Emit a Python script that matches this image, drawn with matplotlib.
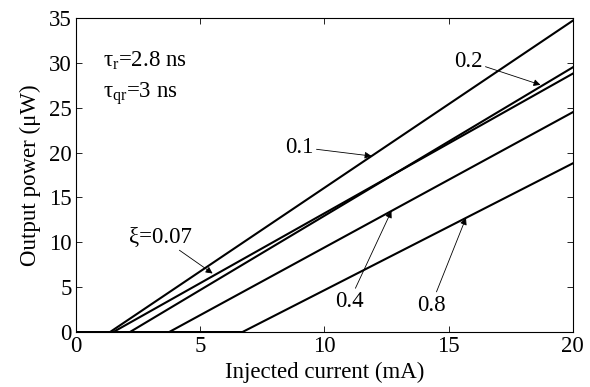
import matplotlib
matplotlib.use("Agg")
import matplotlib.pyplot as plt

plt.rcParams['font.family'] = ['Liberation Serif', 'DejaVu Serif']
plt.rcParams['mathtext.fontset'] = 'custom'
plt.rcParams['mathtext.rm'] = 'Liberation Serif'
plt.rcParams['mathtext.it'] = 'Liberation Serif'

# Data: (current mA, output power uW) for each xi
xi_labels = ["0.07", "0.1", "0.2", "0.4", "0.8"]
current_pts = [
    [0, 1.5, 20],
    [0, 1.37, 20],
    [0, 2.17, 20],
    [0, 3.75, 20],
    [0, 6.7, 20],
]
power_pts = [
    [0, 0, 28.8],
    [0, 0, 34.7],
    [0, 0, 29.5],
    [0, 0, 24.5],
    [0, 0, 18.8],
]

FS = 16.5
fig = plt.figure(figsize=(5.9, 3.87), dpi=100)
ax = fig.add_axes([0.1288, 0.142, 0.842, 0.8115])

for xs, ys in zip(current_pts, power_pts):
    ax.plot(xs, ys, color='black', linewidth=1.5)

ax.set_xlim(0, 20)
ax.set_ylim(0, 35)
ax.set_xticks([0, 5, 10, 15, 20])
ax.set_yticks([0, 5, 10, 15, 20, 25, 30, 35])
ax.tick_params(direction='in', top=True, right=True, labelsize=FS, length=4, width=0.6, pad=3)
for s in ax.spines.values():
    s.set_linewidth(0.8)
ax.set_xlabel('Injected current (mA)', fontsize=FS, labelpad=3)
ax.set_ylabel('Output power (μW)', fontsize=FS, labelpad=6)

ax.text(1.1, 30.2, r'$\tau_{\rm r}$=2.8 ns', fontsize=FS, va='center')
ax.text(1.1, 26.6, r'$\tau_{\rm qr}$=3 ns', fontsize=FS, va='center')

def yval(i, x):
    xs, ys = current_pts[i], power_pts[i]
    x0, x1, y1 = xs[1], xs[2], ys[2]
    return max(0, (x - x0) * y1 / (x1 - x0))

arrow = dict(arrowstyle='-|>', color='black', lw=0.6, mutation_scale=10, shrinkA=0, shrinkB=0)
ax.annotate('0.1', xy=(11.9, yval(1, 11.9)), xytext=(9.0, 20.6), fontsize=FS,
            ha='center', va='center', arrowprops=arrow)
ax.annotate('0.2', xy=(18.7, yval(2, 18.7) + 0.2), xytext=(15.8, 30.2), fontsize=FS,
            ha='center', va='center', arrowprops=arrow)
ax.annotate('ξ=0.07', xy=(5.5, yval(0, 5.5) + 0.3), xytext=(3.4, 10.6), fontsize=FS,
            ha='center', va='center', arrowprops=arrow)
ax.annotate('0.4', xy=(12.7, yval(3, 12.7)), xytext=(11.0, 3.4), fontsize=FS,
            ha='center', va='center', arrowprops=arrow)
ax.annotate('0.8', xy=(15.7, yval(4, 15.7)), xytext=(14.3, 3.0), fontsize=FS,
            ha='center', va='center', arrowprops=arrow)

fig.savefig('out.png', dpi=100)
